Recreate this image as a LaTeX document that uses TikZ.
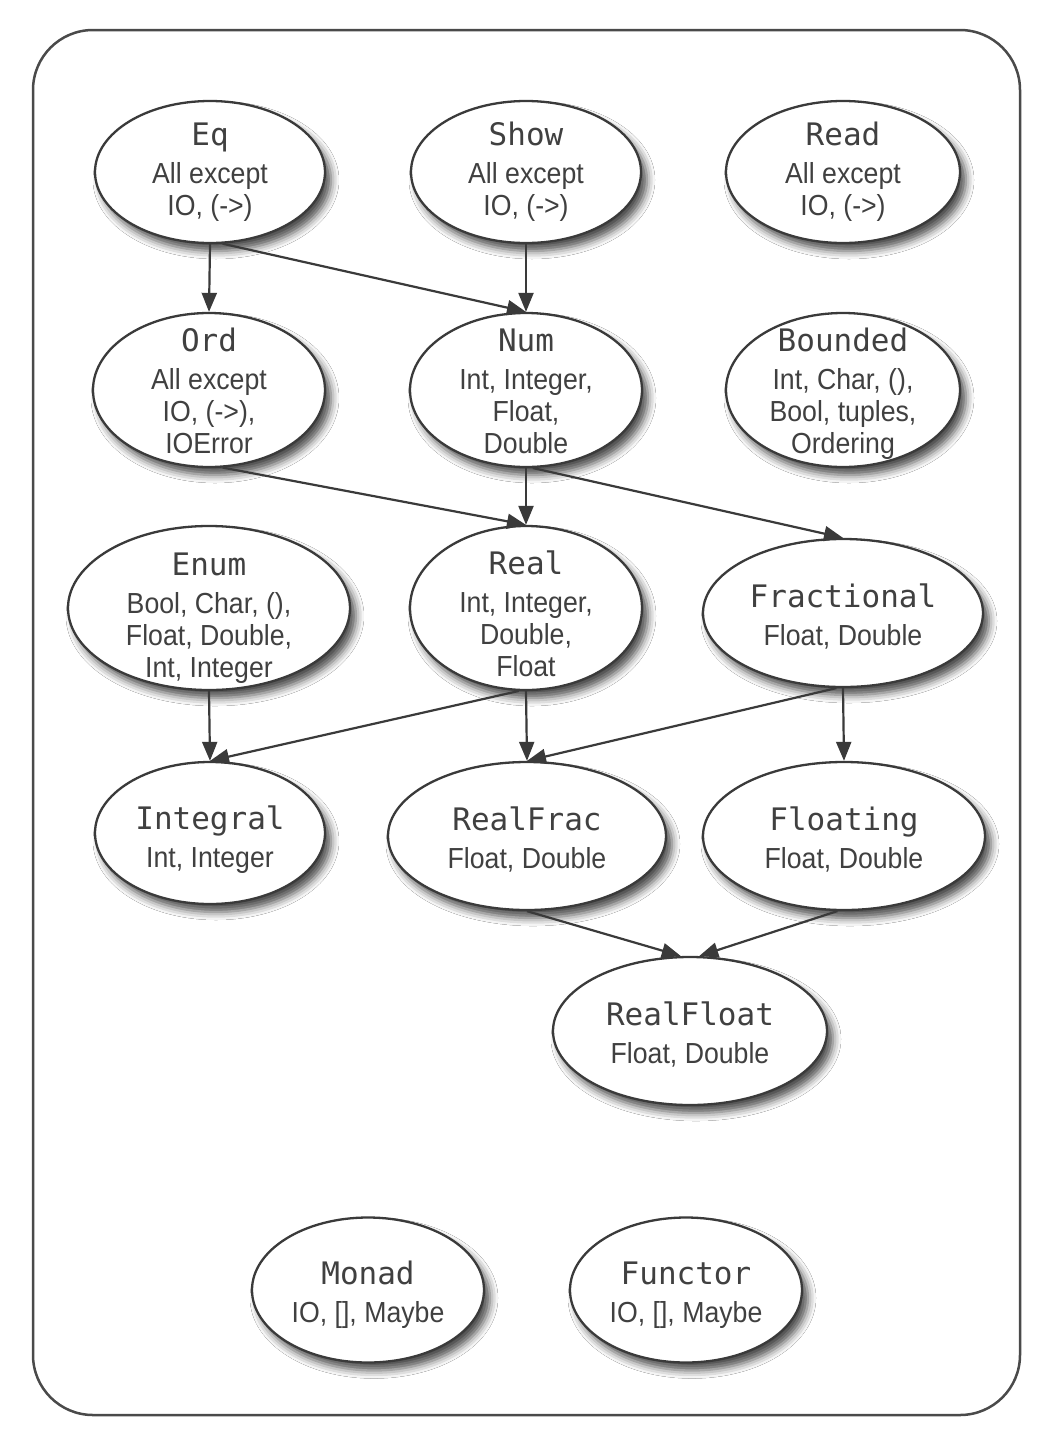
\documentclass[tikz,border=0pt]{standalone}
\usepackage{fontspec}
\setmainfont[FakeStretch=0.92]{Liberation Sans}
\newfontfamily\titlefont{DejaVu Sans Mono}
\usetikzlibrary{shapes.geometric,arrows.meta,shadows.blur}
\definecolor{linec}{HTML}{3A3A3A}
\definecolor{textc}{HTML}{404040}
\definecolor{boxc}{HTML}{4A4A4A}
\newcommand\ttl[1]{{\titlefont\fontsize{31}{32}\selectfont #1}\\[6pt]}
\begin{document}
\begin{tikzpicture}[x=1pt,y=-1pt,
  cls/.style={ellipse, draw=linec, line width=2.3pt, fill=white, inner sep=0pt,
    blur shadow={shadow xshift=6pt, shadow yshift=-8pt, shadow blur radius=8pt, shadow opacity=70}},
  txt/.style={text=textc, align=center, inner sep=0pt, font=\fontsize{29}{32}\selectfont},
  arr/.style={draw=linec, line width=2.2pt, -{Triangle[length=19pt,width=15pt]}}]
\fill[white] (0,0) rectangle (1051,1441);
\useasboundingbox (0,0) rectangle (1051,1441);
\draw[boxc, line width=2.5pt, rounded corners=60pt] (33,30) rectangle (1020,1415);

% ellipses
\node[cls, minimum width=230pt, minimum height=142pt] (Eq) at (210,172) {};
\node[cls, minimum width=230pt, minimum height=142pt] (Show) at (526,172) {};
\node[cls, minimum width=234pt, minimum height=142pt] (Read) at (843,172) {};
\node[cls, minimum width=232pt, minimum height=154pt] (Ord) at (209,390) {};
\node[cls, minimum width=232pt, minimum height=154pt] (Num) at (526,390) {};
\node[cls, minimum width=234pt, minimum height=154pt] (Bounded) at (843,390) {};
\node[cls, minimum width=282pt, minimum height=164pt] (Enum) at (209,608) {};
\node[cls, minimum width=232pt, minimum height=164pt] (Real) at (526,608) {};
\node[cls, minimum width=280pt, minimum height=148pt] (Fractional) at (843,613) {};
\node[cls, minimum width=230pt, minimum height=142pt] (Integral) at (210,833) {};
\node[cls, minimum width=278pt, minimum height=148pt] (RealFrac) at (527,836) {};
\node[cls, minimum width=282pt, minimum height=148pt] (Floating) at (844,836) {};
\node[cls, minimum width=274pt, minimum height=148pt] (RealFloat) at (690,1031) {};
\node[cls, minimum width=232pt, minimum height=145pt] (Monad) at (368,1290) {};
\node[cls, minimum width=232pt, minimum height=145pt] (Functor) at (686,1290) {};

% texts
\node[txt] (EqT) at ([yshift=0pt]Eq.center) {\ttl{Eq}All except\\IO, (->)};
\node[txt] (ShowT) at ([yshift=0pt]Show.center) {\ttl{Show}All except\\IO, (->)};
\node[txt] (ReadT) at ([yshift=0pt]Read.center) {\ttl{Read}All except\\IO, (->)};
\node[txt] (OrdT) at ([yshift=-1pt]Ord.center) {\ttl{Ord}All except\\IO, (->),\\IOError};
\node[txt] (NumT) at ([yshift=-1pt]Num.center) {\ttl{Num}Int, Integer,\\Float,\\Double};
\node[txt] (BoundedT) at ([yshift=-4pt]Bounded.center) {\ttl{Bounded}Int, Char, (),\\Bool, tuples,\\Ordering};
\node[txt] (EnumT) at ([yshift=-10pt]Enum.center) {\ttl{Enum}Bool, Char, (),\\Float, Double,\\Int, Integer};
\node[txt] (RealT) at ([yshift=-6pt]Real.center) {\ttl{Real}Int, Integer,\\Double,\\Float};
\node[txt] (FractionalT) at ([yshift=-3pt]Fractional.center) {\ttl{Fractional}Float, Double};
\node[txt] (IntegralT) at ([yshift=-7pt]Integral.center) {\ttl{Integral}Int, Integer};
\node[txt] (RealFracT) at ([yshift=-3pt]RealFrac.center) {\ttl{RealFrac}Float, Double};
\node[txt] (FloatingT) at ([yshift=-3pt]Floating.center) {\ttl{Floating}Float, Double};
\node[txt] (RealFloatT) at ([yshift=-3pt]RealFloat.center) {\ttl{RealFloat}Float, Double};
\node[txt] (MonadT) at ([yshift=-5pt]Monad.center) {\ttl{Monad}IO, [], Maybe};
\node[txt] (FunctorT) at ([yshift=-5pt]Functor.center) {\ttl{Functor}IO, [], Maybe};

% connectors
\draw[arr] (Eq.south) -- (Ord.north);
\draw[arr] (Eq.-80) -- (Num.north);
\draw[arr] (Show.south) -- (Num.north);
\draw[arr] (Ord.-80) -- (Real.north);
\draw[arr] (Num.south) -- (Real.north);
\draw[arr] (Num.-85) -- (Fractional.north);
\draw[arr] (Enum.south) -- (Integral.north);
\draw[arr] (Real.-95) -- (Integral.north);
\draw[arr] (Real.south) -- (RealFrac.north);
\draw[arr] (Fractional.-95) -- (RealFrac.north);
\draw[arr] (Fractional.south) -- (Floating.north);
\draw[arr] (RealFrac.south) -- (RealFloat.97);
\draw[arr] (Floating.-95) -- (RealFloat.83);
\end{tikzpicture}
\end{document}
